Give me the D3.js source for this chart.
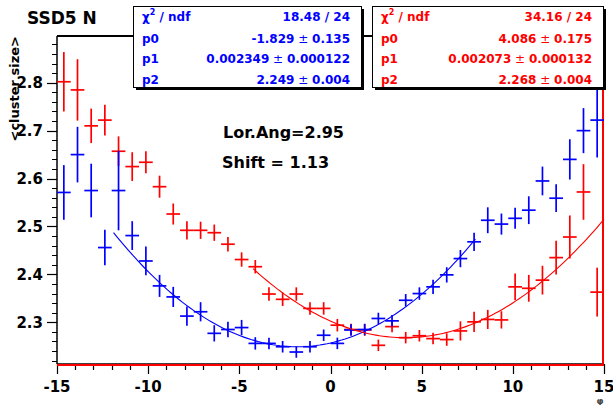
<!DOCTYPE html>
<html>
<head>
<meta charset="utf-8">
<script src="https://cdn.jsdelivr.net/npm/d3@7"></script>
<style>
  body { margin: 0; background: #fff; }
  text { font-family: "DejaVu Sans", sans-serif; font-weight: bold; }
</style>
</head>
<body>
<div id="chart"></div>
<script>
var width = 613, height = 405;
var frame = { left: 57, right: 604, top: 36, bottom: 364 };

// bin centres (phi)
var binCenters = [-14.625, -13.875, -13.125, -12.375, -11.625, -10.875, -10.125, -9.375, -8.625, -7.875,
                  -7.125, -6.375, -5.625, -4.875, -4.125, -3.375, -2.625, -1.875, -1.125, -0.375,
                  0.375, 1.125, 1.875, 2.625, 3.375, 4.125, 4.875, 5.625, 6.375, 7.125,
                  7.875, 8.625, 9.375, 10.125, 10.875, 11.625, 12.375, 13.125, 13.875, 14.625];
var binHalf = 0.375;

var blueValues = [2.571, 2.650, 2.575, 2.456, 2.575, 2.481, 2.428, 2.376, 2.353, 2.313,
                  2.322, 2.277, 2.285, 2.289, 2.256, 2.256, 2.249, 2.238, 2.249, 2.273,
                  2.256, 2.284, 2.285, 2.308, 2.303, 2.346, 2.360, 2.374, 2.399, 2.433,
                  2.468, 2.513, 2.505, 2.517, 2.534, 2.595, 2.559, 2.640, 2.700, 2.722];
var blueErrors = [0.057, 0.058, 0.056, 0.037, 0.083, 0.030, 0.030, 0.023, 0.021, 0.020,
                  0.020, 0.017, 0.016, 0.016, 0.013, 0.012, 0.012, 0.012, 0.012, 0.012,
                  0.012, 0.012, 0.012, 0.012, 0.012, 0.013, 0.013, 0.015, 0.016, 0.018,
                  0.019, 0.027, 0.022, 0.022, 0.029, 0.030, 0.029, 0.042, 0.047, 0.078];

var redValues = [2.802, 2.785, 2.710, 2.722, 2.657, 2.625, 2.634, 2.583, 2.526, 2.492,
                 2.492, 2.487, 2.463, 2.431, 2.416, 2.359, 2.348, 2.359, 2.329, 2.329,
                 2.294, 2.285, 2.284, 2.252, 2.291, 2.268, 2.272, 2.266, 2.264, 2.282,
                 2.301, 2.306, 2.305, 2.374, 2.371, 2.388, 2.435, 2.478, 2.572, 2.363];
var redErrors = [0.062, 0.064, 0.036, 0.032, 0.031, 0.030, 0.023, 0.023, 0.022, 0.019,
                 0.018, 0.017, 0.015, 0.015, 0.014, 0.014, 0.014, 0.014, 0.013, 0.013,
                 0.013, 0.012, 0.012, 0.012, 0.012, 0.012, 0.012, 0.012, 0.013, 0.020,
                 0.021, 0.020, 0.018, 0.028, 0.028, 0.030, 0.035, 0.045, 0.058, 0.051];

// fit parameters: y = p2 + p1 * (x - p0)^2 , and fit ranges
var blueFit = [-1.829, 0.002349, 2.249];
var redFit = [4.086, 0.002073, 2.268];
var blueFitRange = [-11.9, 7.95];
var redFitRange = [-4.25, 15];

var xTicks = [-15, -10, -5, 0, 5, 10, 15];
var yTicks = [2.3, 2.4, 2.5, 2.6, 2.7, 2.8];

var blueStats = [["χ2 / ndf", "18.48 / 24"], ["p0", "-1.829", "0.135"], ["p1", "0.002349", "0.000122"], ["p2", "2.249", "0.004"]];
var redStats = [["χ2 / ndf", "34.16 / 24"], ["p0", "4.086", "0.175"], ["p1", "0.002073", "0.000132"], ["p2", "2.268", "0.004"]];

var svg = d3.select("#chart").append("svg")
    .attr("width", width)
    .attr("height", height);

var x = d3.scaleLinear().domain([-15, 15]).range([frame.left, frame.right]);
var y = d3.scaleLinear().domain([2.213, 2.8975]).range([frame.bottom, frame.top]);

// frame
svg.append("line").attr("x1", frame.left).attr("x2", frame.right)
    .attr("y1", frame.top).attr("y2", frame.top)
    .attr("stroke", "black").attr("stroke-width", 2);
svg.append("line").attr("x1", frame.left).attr("x2", frame.left)
    .attr("y1", frame.top).attr("y2", frame.bottom)
    .attr("stroke", "black").attr("stroke-width", 1.5);

// y axis ticks (outside, minor every 0.02)
var yMinor = d3.range(2.22, 2.89, 0.02);
svg.append("g").selectAll("line").data(yMinor).enter().append("line")
    .attr("x1", frame.left - 5).attr("x2", frame.left)
    .attr("y1", function (d) { return Math.round(y(d)) + 0.5; })
    .attr("y2", function (d) { return Math.round(y(d)) + 0.5; })
    .attr("stroke", "black").attr("stroke-width", 1);
svg.append("g").selectAll("line").data(yTicks).enter().append("line")
    .attr("x1", frame.left - 10).attr("x2", frame.left)
    .attr("y1", function (d) { return Math.round(y(d)) + 0.5; })
    .attr("y2", function (d) { return Math.round(y(d)) + 0.5; })
    .attr("stroke", "black").attr("stroke-width", 1.2);
svg.append("g").selectAll("text").data(yTicks).enter().append("text")
    .attr("x", frame.left - 14)
    .attr("y", function (d) { return y(d); })
    .attr("dy", "0.36em")
    .attr("text-anchor", "end")
    .attr("font-size", 15)
    .text(function (d) { return d.toFixed(1); });

// x axis ticks (below, minor every 1)
var xMinor = d3.range(-15, 15.5, 1);
svg.append("g").selectAll("line").data(xMinor).enter().append("line")
    .attr("x1", function (d) { return Math.round(x(d)) + 0.5; })
    .attr("x2", function (d) { return Math.round(x(d)) + 0.5; })
    .attr("y1", frame.bottom).attr("y2", function (d) { return frame.bottom + (d % 5 == 0 ? 10 : 6); })
    .attr("stroke", "black").attr("stroke-width", 1.2);
svg.append("g").selectAll("text").data(xTicks).enter().append("text")
    .attr("x", function (d) { return x(d); })
    .attr("y", 387)
    .attr("dy", "0.36em")
    .attr("text-anchor", "middle")
    .attr("font-size", 15)
    .text(function (d) { return d; });

// bottom and right edges (histogram red line)
svg.append("line").attr("x1", frame.left).attr("x2", frame.right)
    .attr("y1", frame.bottom).attr("y2", frame.bottom)
    .attr("stroke", "black").attr("stroke-width", 1.5);
svg.append("line").attr("x1", frame.left).attr("x2", frame.right)
    .attr("y1", frame.bottom + 1).attr("y2", frame.bottom + 1)
    .attr("stroke", "#ff0000").attr("stroke-width", 2);
svg.append("line").attr("x1", frame.right - 1).attr("x2", frame.right - 1)
    .attr("y1", frame.top).attr("y2", frame.bottom + 2)
    .attr("stroke", "#ff0000").attr("stroke-width", 2);

// axis titles
svg.append("text")
    .attr("transform", "translate(19, 36) rotate(-90)")
    .attr("text-anchor", "end")
    .attr("font-size", 13)
    .text("<cluster size>");
svg.append("text")
    .attr("x", 600).attr("y", 404)
    .attr("text-anchor", "middle")
    .attr("font-size", 9)
    .attr("font-weight", "normal")
    .attr("fill", "#444")
    .text("φ");

// data points with error bars
function drawPoints(values, errors, color) {
    var g = svg.append("g").attr("stroke", color).attr("stroke-width", 1.7);
    values.forEach(function (v, i) {
        var cx = binCenters[i];
        g.append("line")
            .attr("x1", x(cx)).attr("x2", x(cx))
            .attr("y1", y(v - errors[i])).attr("y2", y(v + errors[i]));
        g.append("line")
            .attr("x1", x(cx - binHalf)).attr("x2", x(cx + binHalf))
            .attr("y1", y(v)).attr("y2", y(v));
    });
}

function drawFit(p, range, color) {
    var pts = [];
    var n = 100;
    for (var i = 0; i <= n; i++) {
        var xv = range[0] + (range[1] - range[0]) * i / n;
        pts.push([xv, p[2] + p[1] * (xv - p[0]) * (xv - p[0])]);
    }
    var line = d3.line()
        .x(function (d) { return x(d[0]); })
        .y(function (d) { return y(d[1]); });
    svg.append("path")
        .datum(pts)
        .attr("d", line)
        .attr("fill", "none")
        .attr("stroke", color)
        .attr("stroke-width", 1.1);
}

drawPoints(redValues, redErrors, "#ff0000");
drawPoints(blueValues, blueErrors, "#0000ff");
drawFit(blueFit, blueFitRange, "#0000ff");
drawFit(redFit, redFitRange, "#ff0000");

// title + labels
svg.append("text").attr("x", 27).attr("y", 24).attr("font-size", 17).text("SSD5 N");
svg.append("text").attr("x", 223).attr("y", 138).attr("font-size", 16).text("Lor.Ang=2.95");
svg.append("text").attr("x", 222).attr("y", 168).attr("font-size", 16).text("Shift = 1.13");

// stat boxes
function drawStats(stats, box, color) {
    var g = svg.append("g");
    // shadow
    g.append("rect").attr("x", box.x + 3).attr("y", box.y + 3)
        .attr("width", box.w).attr("height", box.h).attr("fill", "black");
    g.append("rect").attr("x", box.x + 0.5).attr("y", box.y + 0.5)
        .attr("width", box.w).attr("height", box.h)
        .attr("fill", "white").attr("stroke", "black").attr("stroke-width", 1);
    var rowY = [16.7, 38.5, 59, 79.7];
    stats.forEach(function (row, i) {
        var label = g.append("text")
            .attr("x", box.x + 9).attr("y", rowY[i])
            .attr("dy", "0.36em").attr("font-size", 12).attr("fill", color);
        if (i == 0) {
            label.append("tspan").text("χ");
            label.append("tspan").attr("font-size", 8).attr("dy", "-0.7em").text("2");
            label.append("tspan").attr("dy", "0.45em").text(" / ndf");
        } else {
            label.text(row[0]);
        }
        var val = g.append("text")
            .attr("x", box.x + box.w - 11).attr("y", rowY[i])
            .attr("dy", "0.36em").attr("font-size", 12).attr("fill", color)
            .attr("text-anchor", "end");
        if (row.length == 2) {
            val.text(row[1]);
        } else {
            val.append("tspan").text(row[1]);
            val.append("tspan").attr("font-weight", "normal").text(" ± ");
            val.append("tspan").text(row[2]);
        }
    });
}

drawStats(blueStats, { x: 133, y: 6, w: 228, h: 81 }, "#0000ff");
drawStats(redStats, { x: 372, y: 6, w: 231, h: 81 }, "#ff0000");
</script>
</body>
</html>
